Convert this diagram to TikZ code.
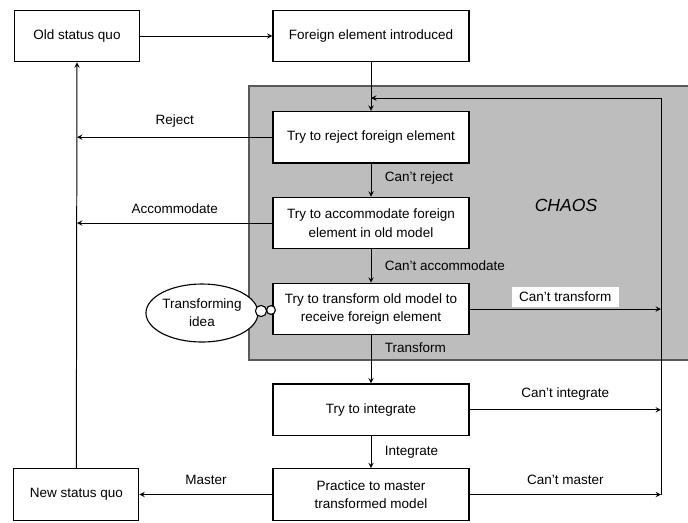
\documentclass[tikz,border=0pt]{standalone}
\usepackage{fontspec}
\setmainfont{Liberation Sans}
\usetikzlibrary{positioning,shapes.geometric}
\definecolor{chaosgray}{gray}{0.74}

\begin{document}
\begin{tikzpicture}[
    x=0.025cm, y=-0.025cm,
    node distance=0.83cm,
    box/.style={rectangle, draw=black, fill=white, line width=0.8pt, minimum width=4.9cm, minimum height=1.29cm, align=center, font=\fontsize{9.6}{13}\selectfont},
    sidebox/.style={box, minimum width=3.125cm},
    arrow/.style={->, >=stealth, line width=0.7pt},
    tag/.style={font=\fontsize{9.6}{12}\selectfont, inner sep=1pt}
]
    \useasboundingbox (0,0) rectangle (688,522);

    % chaos zone
    \draw[black!65, line width=0.8pt, fill=chaosgray] (700,86) -- (249,86) -- (249,360) -- (700,360);
    \node[font=\fontsize{12.5}{14}\selectfont\itshape] (chaos) at (566,205) {CHAOS};

    \node[sidebox] (old) at (77,36) {Old status quo};
    \node[box] (foreign) at (371,36) {Foreign element introduced};
    \node[box, below=1.21cm of foreign] (reject) {Try to reject foreign element};
    \node[box, below=of reject] (accom) {Try to accommodate foreign\\element in old model};
    \node[box, below=of accom] (transf) {Try to transform old model to\\receive foreign element};
    \node[box, below=1.2cm of transf] (integ) {Try to integrate};
    \node[box, below=0.8cm of integ] (master) {Practice to master\\transformed model};
    \node[sidebox, left=3.325cm of master] (newsq) {New status quo};

    \node[ellipse, draw, line width=0.8pt, fill=white, inner sep=0pt, minimum width=2.8cm, minimum height=1.45cm, align=center, font=\fontsize{9.6}{13}\selectfont] (idea) at (202,313) {Transforming\\idea};
    \node[circle, draw, line width=0.8pt, fill=white, minimum size=0.28cm, inner sep=0pt] (bub1) at (261,311) {};
    \node[circle, draw, line width=0.8pt, fill=white, minimum size=0.22cm, inner sep=0pt] (bub2) at (271,310) {};

    \coordinate (turn) at (661,98);

    \draw[arrow] (old) -- (foreign);
    \draw[arrow] (foreign) -- (reject);
    \draw[arrow] (reject) -- node[tag, right=0.3cm, pos=0.45] {Can't reject} (accom);
    \draw[arrow] (accom) -- node[tag, right=0.3cm] {Can't accommodate} (transf);
    \draw[arrow] (transf) -- node[tag, right=0.3cm, pos=0.25] {Transform} (integ);
    \draw[arrow] (integ) -- node[tag, right=0.3cm] {Integrate} (master);

    \draw[arrow] (reject) -- node[tag, above=0.2cm] {Reject} (reject -| old.south);
    \draw[arrow] (accom) -- node[tag, above=0.2cm] {Accommodate} (accom -| old.south);
    \draw[arrow] (master) -- node[tag, above=0.2cm] {Master} (newsq);
    \draw[arrow] (newsq) -- (old);

    \draw[arrow] (transf) -- node[tag, fill=white, above=0.05cm, minimum width=2.675cm, minimum height=0.5cm] {Can't transform} (transf -| turn);
    \draw[arrow] (integ) -- node[tag, above=0.2cm] {Can't integrate} (integ -| turn);
    \draw[arrow] (master) -- node[tag, above=0.2cm] {Can't master} (master -| turn);
    \draw[arrow] (master -| turn) -- (turn) -- (foreign |- turn);
\end{tikzpicture}
\end{document}
